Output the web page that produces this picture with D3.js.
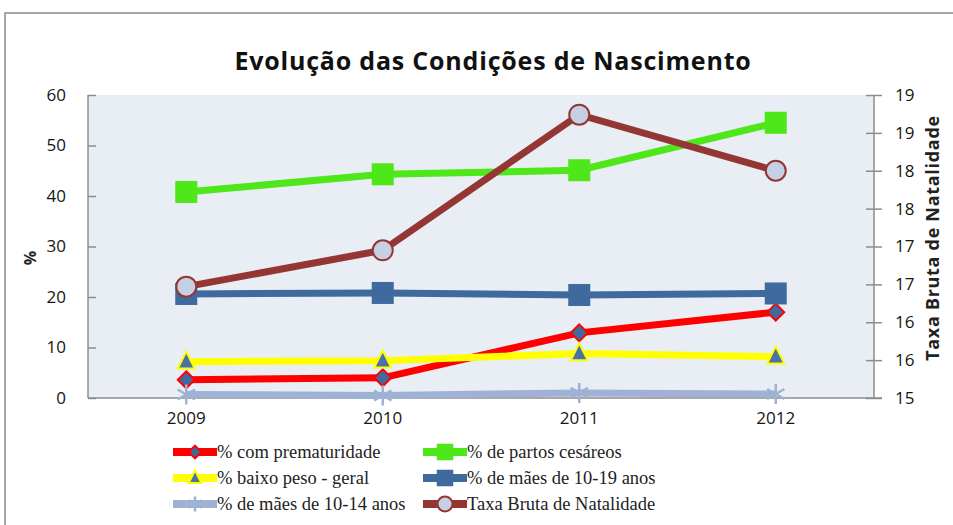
<!DOCTYPE html>
<html>
<head>
    <style>
        body { margin: 0; background: #fff; }
        .title { font: bold 25px "Open Sans", sans-serif; fill: #111; letter-spacing: 0.8px; }
        .tick text { font: 17px "Open Sans", sans-serif; fill: #151515; }
        .axis-title { font: bold 16px "Open Sans", sans-serif; fill: #222; }
        .axis-title.right { font-size: 18px; letter-spacing: 0.7px; }
        .legend text { font: 18.5px "Liberation Serif", serif; fill: #222; }
    </style>
    <script src="https://d3js.org/d3.v7.min.js"></script>
</head>
<body>
    <svg width="953" height="525"></svg>
    <script>

        var years = ["2009", "2010", "2011", "2012"];
        var prematuridade = [3.6, 4.0, 12.9, 17.0];
        var cesareos = [40.8, 44.3, 45.1, 54.5];
        var baixoPeso = [7.2, 7.4, 8.8, 8.2];
        var maes1019 = [20.6, 20.8, 20.4, 20.7];
        var maes1014 = [0.7, 0.5, 1.0, 0.8];
        var taxaBruta = [16.47, 16.95, 18.74, 18.0];
        var leftTicks = [0, 10, 20, 30, 40, 50, 60];
        var rightTicks = [15, 15.5, 16, 16.5, 17, 17.5, 18, 18.5, 19];

        var svg = d3.select("svg"),
            plotLeft = 88, plotRight = 874, plotTop = 95, plotBottom = 398;

        // outer frame
        svg.append("rect")
           .attr("x", 5).attr("y", 13)
           .attr("width", 960).attr("height", 530)
           .attr("fill", "none")
           .attr("stroke", "#8a8a8a")
           .attr("stroke-width", 1.5);

        var x = d3.scaleBand().domain(years).range([plotLeft, plotRight]);
        var y = d3.scaleLinear().domain([0, 60]).range([plotBottom, plotTop]);
        var y2 = d3.scaleLinear().domain([15, 19]).range([plotBottom, plotTop]);

        svg.append("rect")
           .attr("x", plotLeft).attr("y", plotTop)
           .attr("width", plotRight - plotLeft).attr("height", plotBottom - plotTop)
           .attr("fill", "#e9edf4");

        // axes
        var yAxis = svg.append("g")
           .attr("transform", "translate(" + plotLeft + ",0)")
           .call(d3.axisLeft(y).tickValues(leftTicks).tickSize(8).tickPadding(14));
        yAxis.selectAll(".tick line").attr("x2", 8);

        var y2Axis = svg.append("g")
           .attr("transform", "translate(" + plotRight + ",0)")
           .call(d3.axisRight(y2).tickValues(rightTicks).tickFormat(d3.format(".0f")).tickSize(8).tickPadding(13));
        y2Axis.selectAll(".tick line").attr("x1", -8);

        var xAxis = svg.append("g")
           .attr("transform", "translate(0," + plotBottom + ")")
           .call(d3.axisBottom(x).tickSize(0).tickPadding(14));
        xAxis.select(".domain").attr("d", "M" + plotLeft + ",0H" + (plotRight + 8));

        svg.selectAll(".domain, .tick line").attr("stroke", "#8c8c8c").attr("stroke-width", 1.5);
        yAxis.select(".domain").attr("d", "M0," + plotTop + "V" + plotBottom);
        y2Axis.select(".domain").attr("d", "M0," + plotTop + "V" + plotBottom);

        svg.append("text")
           .attr("class", "title")
           .attr("x", 493).attr("y", 70)
           .attr("text-anchor", "middle")
           .text("Evolução das Condições de Nascimento");

        svg.append("text")
           .attr("class", "axis-title")
           .attr("transform", "translate(36,258) rotate(-90)")
           .attr("text-anchor", "middle")
           .text("%");

        svg.append("text")
           .attr("class", "axis-title right")
           .attr("transform", "translate(939,238) rotate(-90)")
           .attr("text-anchor", "middle")
           .text("Taxa Bruta de Natalidade");

        // marker shapes
        function marker(g, type, c, s) {
            if (type === "square") {
                g.append("rect").attr("x", -s / 2).attr("y", -s / 2).attr("width", s).attr("height", s)
                 .attr("fill", c.fill);
            } else if (type === "diamond") {
                g.append("path").attr("d", "M0," + (-s / 2) + "L" + (s / 2) + ",0L0," + (s / 2) + "L" + (-s / 2) + ",0Z")
                 .attr("fill", c.fill).attr("stroke", c.stroke).attr("stroke-width", 2);
            } else if (type === "triangle") {
                g.append("path").attr("d", "M0," + (-s * 0.6) + "L" + (s / 2) + "," + (s * 0.4) + "L" + (-s / 2) + "," + (s * 0.4) + "Z")
                 .attr("fill", c.fill).attr("stroke", c.stroke).attr("stroke-width", 2);
            } else if (type === "circle") {
                g.append("circle").attr("r", s / 2)
                 .attr("fill", c.fill).attr("stroke", c.stroke).attr("stroke-width", 2);
            } else if (type === "star") {
                var r = s / 2;
                [30, 150, 90].forEach(function(a) {
                    var rad = a * Math.PI / 180;
                    g.append("line")
                     .attr("x1", -r * Math.cos(rad)).attr("y1", -r * Math.sin(rad))
                     .attr("x2", r * Math.cos(rad)).attr("y2", r * Math.sin(rad))
                     .attr("stroke", c.fill).attr("stroke-width", 2.5);
                });
            }
        }

        var series = [
            { name: "% com prematuridade", values: prematuridade, scale: y, color: "#ff0000",
              type: "diamond", c: { fill: "#3e6a9e", stroke: "#ff0000" }, size: 17 },
            { name: "% de partos cesáreos", values: cesareos, scale: y, color: "#4ee81a",
              type: "square", c: { fill: "#4ee81a" }, size: 22 },
            { name: "% baixo peso - geral", values: baixoPeso, scale: y, color: "#ffff00",
              type: "triangle", c: { fill: "#4a72a8", stroke: "#ffff00" }, size: 17 },
            { name: "% de mães de 10-19 anos", values: maes1019, scale: y, color: "#3e6a9e",
              type: "square", c: { fill: "#3e6a9e" }, size: 22 },
            { name: "% de mães de 10-14 anos", values: maes1014, scale: y, color: "#a0b2d4",
              type: "star", c: { fill: "#a0b2d4" }, size: 20 },
            { name: "Taxa Bruta de Natalidade", values: taxaBruta, scale: y2, color: "#943634",
              type: "circle", c: { fill: "#c6d0e4", stroke: "#943634" }, size: 20 }
        ];

        var cx = function(i) { return x(years[i]) + x.bandwidth() / 2; };

        series.forEach(function(s) {
            var line = d3.line()
                         .x(function(d, i) { return cx(i); })
                         .y(function(d) { return s.scale(d); });
            svg.append("path")
               .datum(s.values)
               .attr("d", line)
               .attr("fill", "none")
               .attr("stroke", s.color)
               .attr("stroke-width", 7);

            s.values.forEach(function(v, i) {
                var g = svg.append("g")
                           .attr("transform", "translate(" + cx(i) + "," + s.scale(v) + ")");
                marker(g, s.type, s.c, s.size);
            });
        });

        // legend
        var legend = svg.append("g").attr("class", "legend");
        series.forEach(function(s, i) {
            var col = i % 2, row = Math.floor(i / 2);
            var lx = 173 + col * 250, ly = 452 + row * 26;
            var g = legend.append("g").attr("transform", "translate(" + lx + "," + ly + ")");
            g.append("line")
             .attr("x1", 0).attr("x2", 44).attr("y1", 0).attr("y2", 0)
             .attr("stroke", s.color).attr("stroke-width", 8);
            var m = g.append("g").attr("transform", "translate(22,0)");
            marker(m, s.type, s.c, s.size * 0.75);
            g.append("text")
             .attr("x", 44).attr("y", 6)
             .text(s.name);
        });

    </script>
</body>
</html>
